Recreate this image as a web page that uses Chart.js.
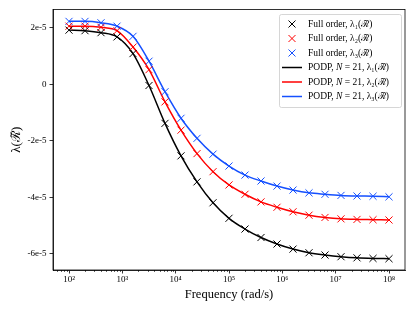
<!DOCTYPE html>
<html lang="en">
<head>
  <meta charset="UTF-8">
  <title>Eigenvalues vs frequency</title>
  <style>
    body { margin: 0; background: #fff; }
    #wrap { width: 415px; height: 311px; }
  </style>
  <script src="https://cdn.jsdelivr.net/npm/chart.js"></script>
</head>
<body>
  <div id="wrap"><canvas id="chart" width="415" height="311"></canvas></div>

  <script>
    // frequencies (rad/s), 21 log-spaced samples
    const freqs = [100, 199.5, 398.1, 794.3, 1585, 3162, 6310, 12589, 25119, 50119, 1e5,
      199526, 398107, 794328, 1.585e6, 3.162e6, 6.31e6, 1.259e7, 2.512e7, 5.012e7, 1e8];

    // eigenvalues, in units of 1e-5
    const fullL1 = [1.92, 1.90, 1.83, 1.68, 1.09, -0.04, -1.38, -2.53, -3.45, -4.19, -4.74,
      -5.12, -5.42, -5.65, -5.83, -5.96, -6.04, -6.10, -6.14, -6.16, -6.17];
    const fullL2 = [2.06, 2.06, 2.02, 1.90, 1.32, 0.52, -0.62, -1.62, -2.45, -3.09, -3.56,
      -3.89, -4.16, -4.35, -4.51, -4.63, -4.71, -4.76, -4.78, -4.79, -4.80];
    const fullL3 = [2.23, 2.23, 2.18, 2.06, 1.70, 0.82, -0.26, -1.20, -1.91, -2.47, -2.89,
      -3.21, -3.42, -3.60, -3.74, -3.84, -3.89, -3.93, -3.95, -3.96, -3.98];
    const podpL1 = fullL1.slice();
    const podpL2 = fullL2.slice();
    const podpL3 = fullL3.slice();

    const xTicks = [1e2, 1e3, 1e4, 1e5, 1e6, 1e7, 1e8];
    const xTickLabels = ['10²', '10³', '10⁴', '10⁵', '10⁶', '10⁷', '10⁸'];
    const yTicks = [-6, -4, -2, 0, 2];
    const yTickLabels = ['-6e-5', '-4e-5', '-2e-5', '0', '2e-5'];

    const colors = ['#000000', '#ff0000', '#1550ff'];
    const serif = '"Liberation Serif", "DejaVu Serif", serif';

    const pts = arr => arr.map((v, i) => ({ x: freqs[i], y: v }));

    const markerSet = (label, data, c) => ({
      label, data: pts(data), showLine: false,
      pointStyle: 'crossRot', pointRadius: 5, pointBorderWidth: 1,
      borderColor: c, backgroundColor: c, kind: 'marker'
    });
    const lineSet = (label, data, c) => ({
      label, data: pts(data), showLine: true, pointRadius: 0,
      borderColor: c, backgroundColor: c, borderWidth: 1.5,
      cubicInterpolationMode: 'monotone', kind: 'line'
    });

    // box, minor ticks and legend drawn by hand (matplotlib look)
    const decor = {
      id: 'decor',
      afterDraw(chart) {
        const ctx = chart.ctx, a = chart.chartArea;
        const xs = chart.scales.x;
        ctx.save();
        ctx.strokeStyle = '#000';
        ctx.lineWidth = 0.8;
        ctx.strokeRect(a.left, a.top, a.right - a.left, a.bottom - a.top);
        // minor ticks
        ctx.beginPath();
        for (let e = 1; e <= 8; e++) {
          for (let m = 2; m <= 9; m++) {
            const v = m * Math.pow(10, e);
            if (v < xs.min || v > xs.max) continue;
            const px = Math.round(xs.getPixelForValue(v)) + 0.5;
            ctx.moveTo(px, a.bottom);
            ctx.lineTo(px, a.bottom + 2);
          }
        }
        ctx.lineWidth = 0.6;
        ctx.stroke();

        // legend
        const bx = 279, by = 14, bw = 122, bh = 93;
        ctx.fillStyle = 'rgba(255,255,255,0.8)';
        ctx.strokeStyle = '#cccccc';
        ctx.lineWidth = 0.8;
        ctx.beginPath();
        ctx.roundRect(bx + 0.5, by + 0.5, bw, bh, 2);
        ctx.fill();
        ctx.stroke();

        ctx.textBaseline = 'middle';
        chart.data.datasets.forEach((ds, i) => {
          const y = 24 + i * 14.5;
          ctx.strokeStyle = ds.borderColor;
          if (ds.kind === 'marker') {
            ctx.lineWidth = 1;
            ctx.beginPath();
            ctx.moveTo(288.5, y - 3.5); ctx.lineTo(295.5, y + 3.5);
            ctx.moveTo(288.5, y + 3.5); ctx.lineTo(295.5, y - 3.5);
            ctx.stroke();
          } else {
            ctx.lineWidth = 1.5;
            ctx.beginPath();
            ctx.moveTo(282, y); ctx.lineTo(302, y);
            ctx.stroke();
          }
          ctx.fillStyle = '#000';
          let x = 308;
          ds.label.split('|').forEach((part, k) => {
            ctx.font = (k === 1 ? 'italic ' : '') + '9.5px ' + serif;
            ctx.fillText(part, x, y);
            x += ctx.measureText(part).width;
          });
        });
        ctx.restore();
      }
    };

    new Chart(document.getElementById('chart'), {
      type: 'scatter',
      data: {
        datasets: [
          markerSet('Full order, λ₁(ℛ̃)', fullL1, colors[0]),
          markerSet('Full order, λ₂(ℛ̃)', fullL2, colors[1]),
          markerSet('Full order, λ₃(ℛ̃)', fullL3, colors[2]),
          lineSet('PODP, |N| = 21, λ₁(ℛ̃)', podpL1, colors[0]),
          lineSet('PODP, |N| = 21, λ₂(ℛ̃)', podpL2, colors[1]),
          lineSet('PODP, |N| = 21, λ₃(ℛ̃)', podpL3, colors[2])
        ]
      },
      options: {
        responsive: false,
        animation: false,
        layout: { padding: { top: 9.5, right: 10, left: 0, bottom: 0 } },
        plugins: { legend: { display: false }, tooltip: { enabled: false } },
        scales: {
          x: {
            type: 'logarithmic',
            min: 50.1, max: 1.995e8,
            afterBuildTicks: s => { s.ticks = xTicks.map(v => ({ value: v })); },
            afterFit: s => { s.height = 41; },
            grid: { drawOnChartArea: false, tickLength: 3.5, color: '#000', tickWidth: 0.8 },
            border: { display: true, color: '#000', width: 0.8 },
            ticks: {
              padding: 1, color: '#000', maxRotation: 0, autoSkip: false,
              font: { family: serif, size: 9 },
              callback: v => { const i = xTicks.indexOf(v); return i >= 0 ? xTickLabels[i] : ''; }
            },
            title: {
              display: true, text: 'Frequency (rad/s)', color: '#000',
              font: { family: serif, size: 12.5 }, padding: { top: 0, bottom: 9 }
            }
          },
          y: {
            min: -6.57, max: 2.65,
            afterBuildTicks: s => { s.ticks = yTicks.map(v => ({ value: v })); },
            afterFit: s => { s.width = 53; },
            grid: { drawOnChartArea: false, tickLength: 3.5, color: '#000', tickWidth: 0.8 },
            border: { display: true, color: '#000', width: 0.8 },
            ticks: {
              padding: 3, color: '#000',
              font: { family: serif, size: 9 },
              callback: v => { const i = yTicks.indexOf(v); return i >= 0 ? yTickLabels[i] : ''; }
            },
            title: {
              display: true, text: 'λ(ℛ̃)', color: '#000',
              font: { family: serif, size: 13 }, padding: { top: 9, bottom: 0 }
            }
          }
        }
      },
      plugins: [decor]
    });
  </script>
</body>
</html>
